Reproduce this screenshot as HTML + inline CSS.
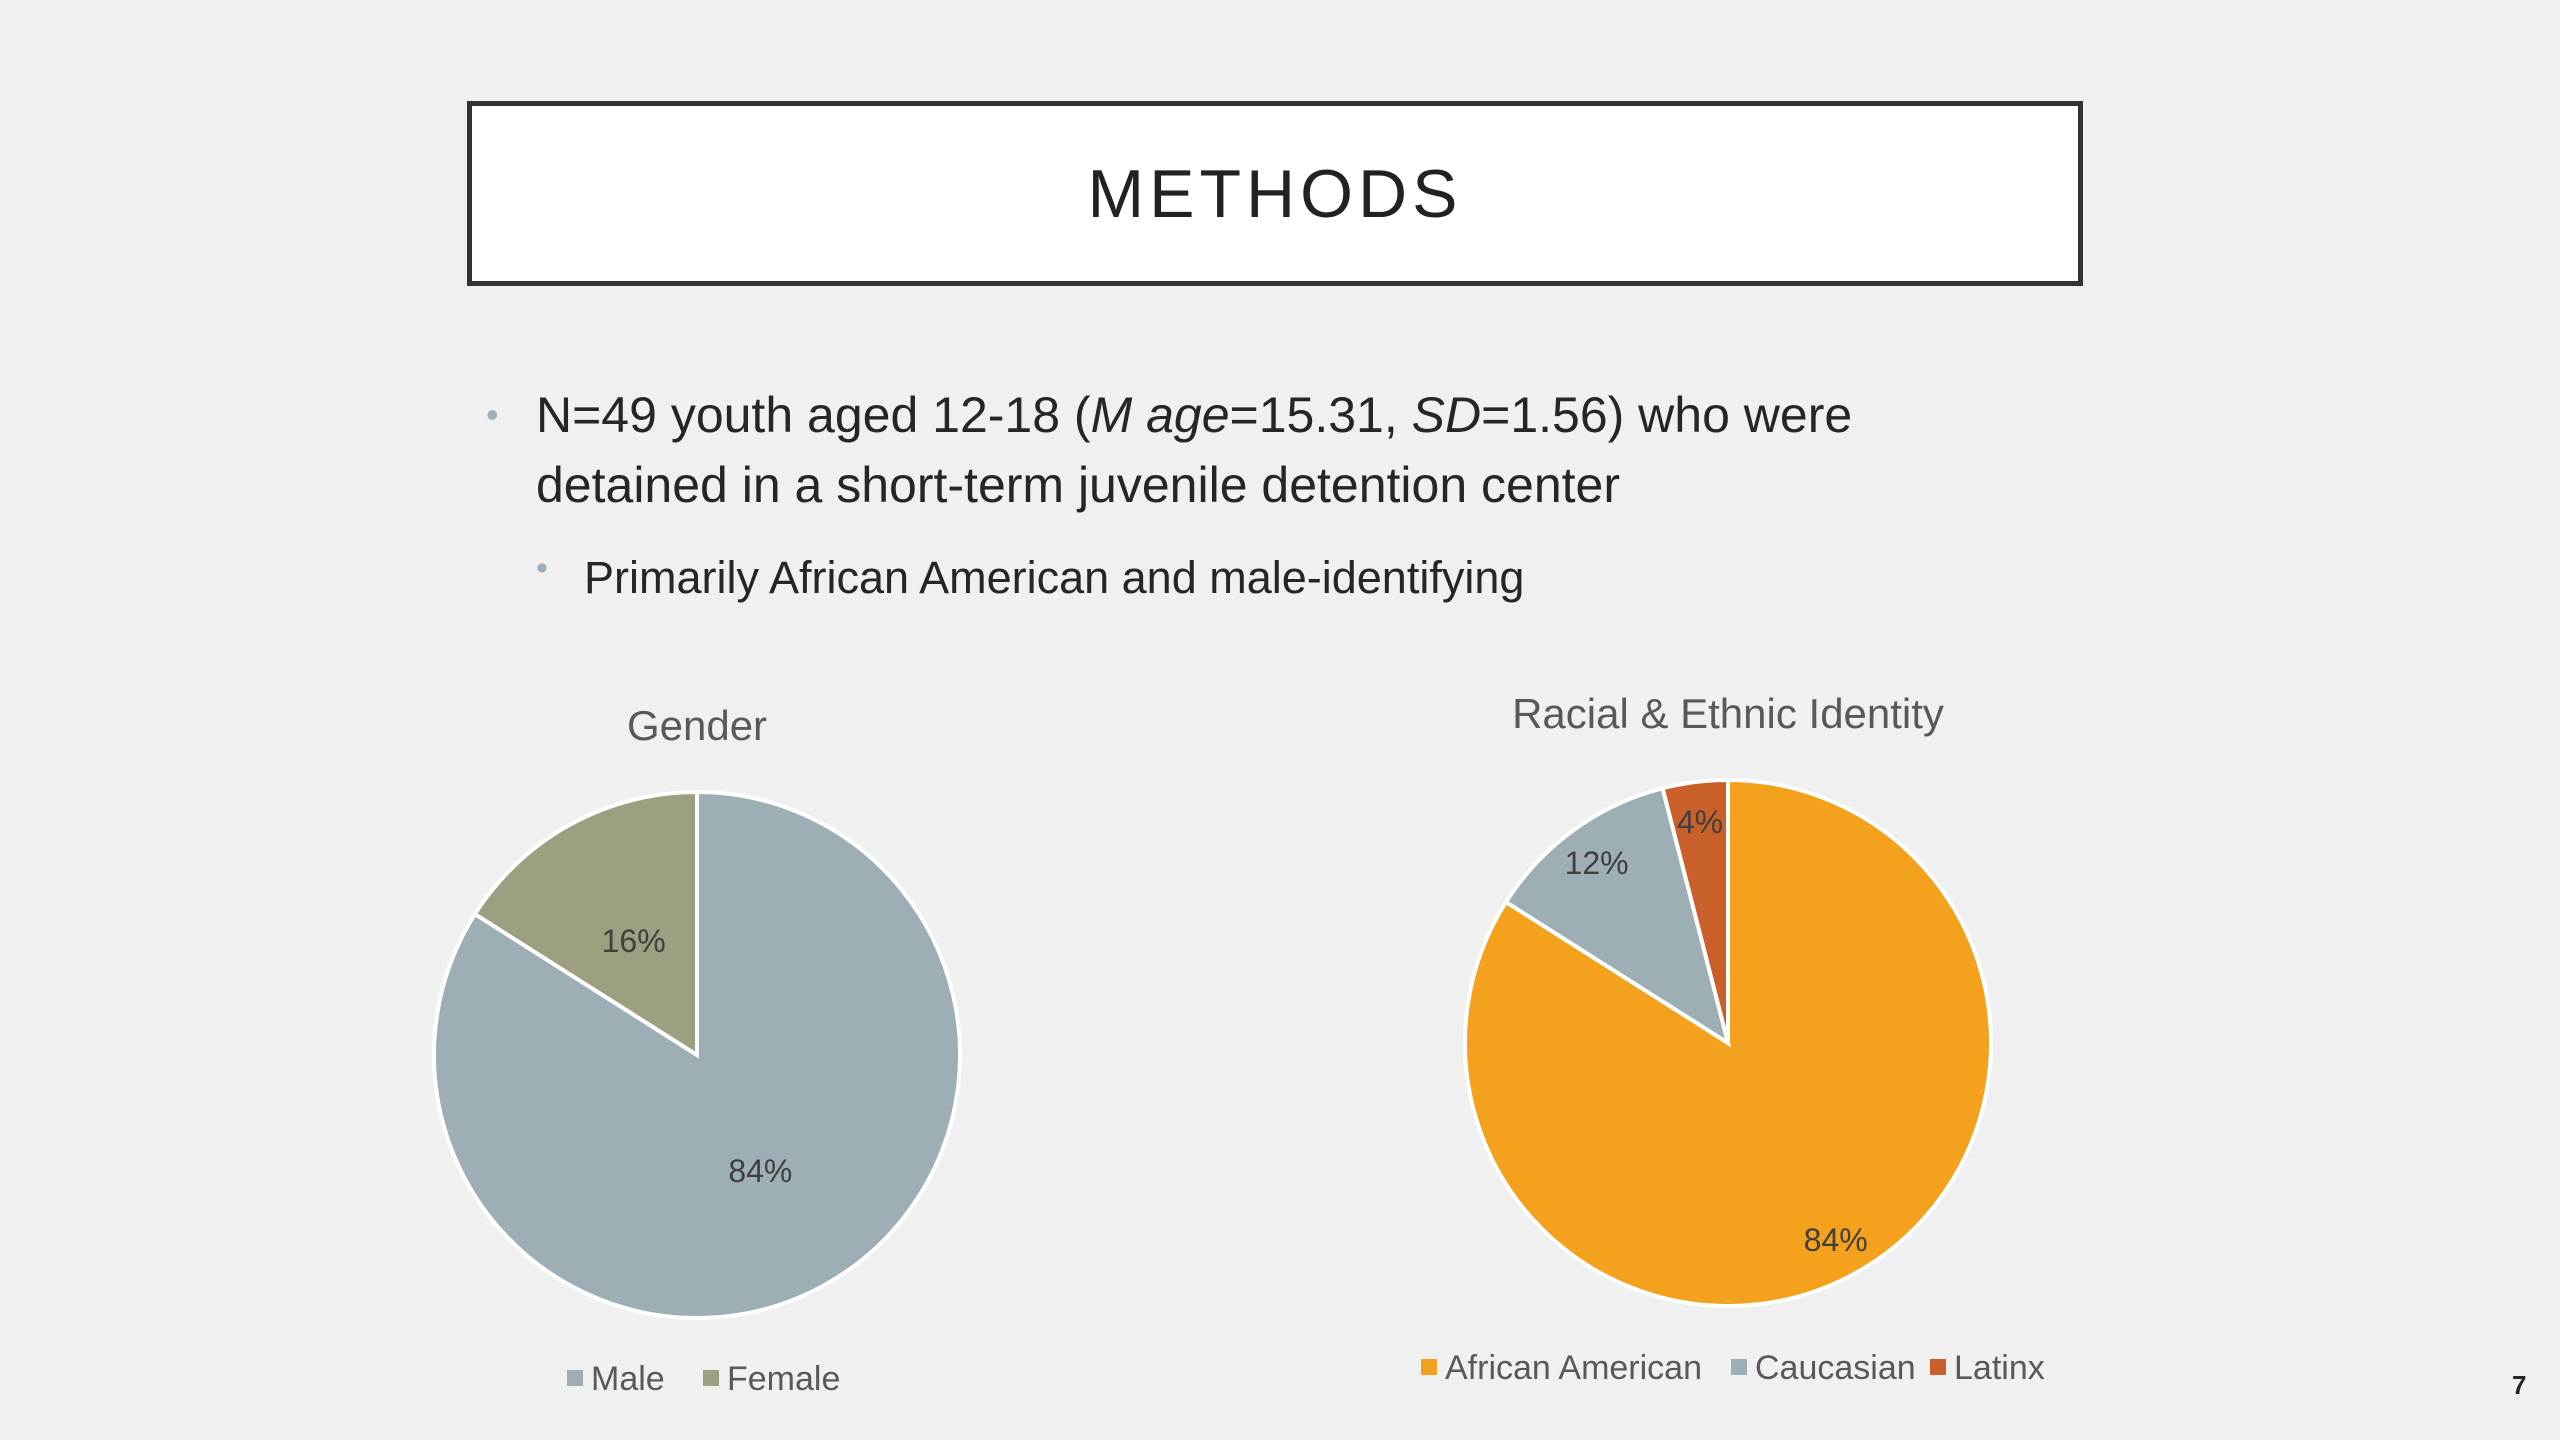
<!DOCTYPE html>
<html><head><meta charset="utf-8">
<style>
html,body{margin:0;padding:0}
body{width:2560px;height:1440px;background:#F0F0F0;position:relative;overflow:hidden;font-family:"Liberation Sans",sans-serif;color:#262626}
.abs{position:absolute}
#title-box{left:467px;top:101px;width:1616px;height:185px;border:5px solid #333;background:#fff;box-sizing:border-box;display:flex;align-items:center;justify-content:center;font-size:68px;letter-spacing:5px;color:#222}
.b1{font-size:50px;line-height:70px}
.dot{color:#9DAFB5}
</style></head>
<body>
<div id="title-box" class="abs">METHODS</div>
<div class="abs b1" style="left:486px;top:380px"><span class="dot" style="font-size:36px;vertical-align:6px">•</span></div>
<div class="abs b1" style="left:536px;top:380px;width:1500px">N=49 youth aged 12-18 (<i>M age</i>=15.31, <i>SD</i>=1.56) who were detained in a short-term juvenile detention center</div>
<div class="abs" style="left:536px;top:549px;font-size:34px"><span class="dot">•</span></div>
<div class="abs" style="left:584px;top:548px;font-size:45px;line-height:60px">Primarily African American and male-identifying</div>
<div class="abs" style="left:2512px;top:1370px;font-size:26px;font-weight:bold">7</div>
<svg class="abs" style="left:0;top:0" width="2560" height="1440">
<g id="g1"></g>
<g id="g2"></g>
</svg>
<script>
const genderCats=["Male","Female"];
const genderVals=[84,16];
const raceCats=["African American","Caucasian","Latinx"];
const raceVals=[84,12,4];
const NS="http://www.w3.org/2000/svg";
function mk(t,a,p){const e=document.createElementNS(NS,t);for(const k in a)e.setAttribute(k,a[k]);p.appendChild(e);return e;}
function pie(g,cats,vals,colors,cx,cy,r,lf,title,ty,legY,legX,slug){
  const t=mk("text",{x:cx,y:ty,"text-anchor":"middle","font-size":42,fill:"#595959","font-family":"Liberation Sans, sans-serif"},g);
  t.textContent=title;
  
  
  const tot=vals.reduce((a,b)=>a+b,0);let acc=0;
  vals.forEach((v,i)=>{
    const a0=acc/tot*2*Math.PI,a1=(acc+v)/tot*2*Math.PI;acc+=v;
    const x0=cx+r*Math.sin(a0),y0=cy-r*Math.cos(a0),x1=cx+r*Math.sin(a1),y1=cy-r*Math.cos(a1);
    const p=mk("path",{d:`M${cx},${cy}L${x0},${y0}A${r},${r} 0 ${a1-a0>Math.PI?1:0} 1 ${x1},${y1}Z`,fill:colors[i],stroke:"#fff","stroke-width":4},g);
    
    
    const am=(a0+a1)/2;
    const l=mk("text",{x:cx+lf*r*Math.sin(am),y:cy-lf*r*Math.cos(am)+12,"text-anchor":"middle","font-size":32,fill:"#404040","font-family":"Liberation Sans, sans-serif"},g);
    l.textContent=v+"%";
    
    
  });
  cats.forEach((c,i)=>{
    const s=mk("rect",{x:legX[i],y:legY-8,width:16,height:16,fill:colors[i]},g);
    
    
    const lt=mk("text",{x:legX[i]+24,y:legY+12,"font-size":34,fill:"#595959","font-family":"Liberation Sans, sans-serif"},g);
    lt.textContent=c;
    
    
  });
}
pie(document.getElementById("g1"),genderCats,genderVals,["#9DAFB5","#9C9F80"],697,1055,263,0.5,"Gender",740,1378,[567,703],"gender");
pie(document.getElementById("g2"),raceCats,raceVals,["#F4A11D","#9DAFB5","#C9602A"],1728,1043,263,0.85,"Racial & Ethnic Identity",728,1367,[1421,1731,1930],"race");
</script>
</body></html>
